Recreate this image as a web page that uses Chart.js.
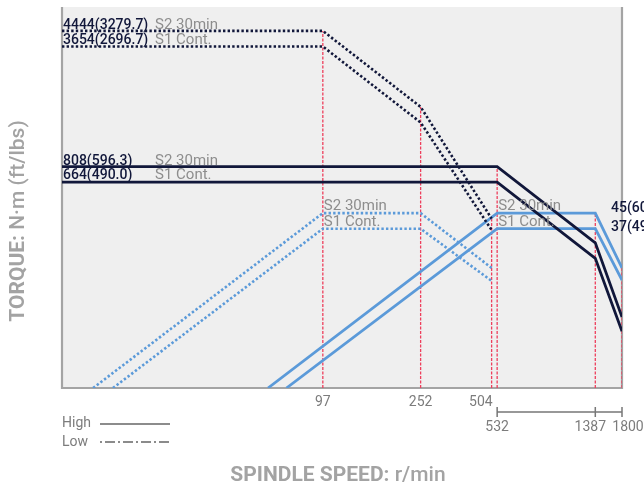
<!DOCTYPE html>
<html><head><meta charset="utf-8">
<script src="https://cdn.jsdelivr.net/npm/chart.js@4/dist/chart.umd.min.js"></script>
<style>html,body{margin:0;padding:0;background:#fff;overflow:hidden}</style>
</head><body>
<canvas id="c" width="644" height="489"></canvas>
<script>
// ---------- DATA ----------
const X_START = 7.6, X_END = 1800;           // spindle speed axis (r/min, log)
const TORQUE_MIN = 50, TORQUE_MAX = 6000;     // torque axis (N·m, log)
const POWER_MIN = 5, POWER_MAX = 600;         // power axis (kW, log)

// Torque, High gear (solid)
const highS2Speed  = [X_START, 532, 1387, 1800];
const highS2Torque = [808, 808, 310, 122];
const highS1Speed  = [X_START, 532, 1387, 1800];
const highS1Torque = [664, 664, 255, 102];
// Torque, Low gear (dotted)
const lowS2Speed  = [X_START, 97, 252, 504];
const lowS2Torque = [4444, 4444, 1710, 420];
const lowS1Speed  = [X_START, 97, 252, 504];
const lowS1Torque = [3654, 3654, 1406, 364];
// Power, High gear (solid)
const highS2PowerSpeed = [56.8, 532, 1387, 1800];
const highS2Power      = [5, 45, 45, 22.6];
const highS1PowerSpeed = [68, 532, 1387, 1800];
const highS1Power      = [5, 37, 37, 19.4];
// Power, Low gear (dotted)
const lowS2PowerSpeed = [10.3, 97, 252, 504];
const lowS2Power      = [5, 45, 45, 22.6];
const lowS1PowerSpeed = [12.5, 97, 252, 504];
const lowS1Power      = [5, 37, 37, 19.2];

// Reference speed markers (red) and the value where each one stops
const refSpeeds = [97, 252, 504, 532, 1387, 1800];
const refTops   = [4444, 1710, 420, 808, 45, 22.6];
const refAxes   = ['y', 'y', 'y', 'y', 'y2', 'y2'];

// Tick labels
const tickRow1 = [97, 252, 504];
const tickRow2 = [532, 1387, 1800];

// Value labels
const torqueLabels = [
  {v: 4444, text: '4444(3279.7)', tag: 'S2 30min'},
  {v: 3654, text: '3654(2696.7)', tag: 'S1 Cont.'},
  {v: 808,  text: '808(596.3)',   tag: 'S2 30min'},
  {v: 664,  text: '664(490.0)',   tag: 'S1 Cont.'}
];
const powerLabels = [
  {v: 45, text: '45(60.3)', tag: 'S2 30min'},
  {v: 37, text: '37(49.6)', tag: 'S1 Cont.'}
];
const powerTagSpeeds = [97, 532];

// ---------- STYLE ----------
const NAVY = '#11173a', BLUE = '#5b9ad9', RED = '#ee3f5c';
const GRAY_TXT = '#8d8d8d', AXIS_GRAY = '#a4a4a4', TICK_TXT = '#7c7c7c';
const FONT = 'Roboto, "Noto Sans", sans-serif';

const pts = (xs, ys) => xs.map((x, i) => ({x, y: ys[i]}));
function curve(xs, ys, color, dotted, axis) {
  return {
    data: pts(xs, ys), yAxisID: axis, borderColor: color,
    borderWidth: dotted ? 2.6 : 2.8, borderDash: dotted ? [2.4, 2.2] : [],
    borderCapStyle: 'butt', borderJoinStyle: 'miter',
    pointRadius: 0, tension: 0, fill: false, order: 1
  };
}
const datasets = [
  curve(highS2Speed, highS2Torque, NAVY, false, 'y'),
  curve(highS1Speed, highS1Torque, NAVY, false, 'y'),
  curve(lowS2Speed, lowS2Torque, NAVY, true, 'y'),
  curve(lowS1Speed, lowS1Torque, NAVY, true, 'y'),
  curve(highS2PowerSpeed, highS2Power, BLUE, false, 'y2'),
  curve(highS1PowerSpeed, highS1Power, BLUE, false, 'y2'),
  curve(lowS2PowerSpeed, lowS2Power, BLUE, true, 'y2'),
  curve(lowS1PowerSpeed, lowS1Power, BLUE, true, 'y2')
];
refSpeeds.forEach((s, i) => {
  const bottom = refAxes[i] === 'y' ? TORQUE_MIN : POWER_MIN;
  datasets.push({
    data: [{x: s, y: bottom}, {x: s, y: refTops[i]}], yAxisID: refAxes[i],
    borderColor: RED, borderWidth: 1.3, borderDash: [3, 1.5],
    pointRadius: 0, fill: false, order: 5
  });
});

const decor = {
  id: 'decor',
  beforeDraw(chart) {
    const {ctx, chartArea: a} = chart;
    ctx.save();
    ctx.fillStyle = '#efefef';
    ctx.fillRect(a.left, a.top, a.right - a.left, a.bottom - a.top);
    ctx.restore();
  },
  beforeDatasetsDraw(chart) {
    const {ctx, chartArea: a} = chart;
    ctx.save();
    ctx.strokeStyle = AXIS_GRAY; ctx.lineWidth = 2.2;
    ctx.beginPath();
    ctx.moveTo(a.left, a.top); ctx.lineTo(a.left, a.bottom); ctx.lineTo(a.right, a.bottom); ctx.lineTo(a.right, a.top);
    ctx.stroke();
    ctx.restore();
  },
  afterDatasetsDraw(chart) {
    const {ctx, chartArea: a, scales} = chart;
    const X = scales.x, Y = scales.y, P = scales.y2;
    ctx.save();
    // torque labels on the left
    ctx.textBaseline = 'alphabetic';
    torqueLabels.forEach((l, i) => {
      const y = Y.getPixelForValue(l.v) - (i === 3 ? 3 : 2);
      ctx.font = '500 14px ' + FONT; ctx.fillStyle = NAVY; ctx.textAlign = 'left';
      ctx.fillText(l.text, a.left + 1, y);
      ctx.fillStyle = GRAY_TXT;
      ctx.font = '15px ' + FONT;
      ctx.fillText(l.tag, a.left + 93, y);
    });
    // power tags inside the chart
    ctx.font = '15px ' + FONT; ctx.fillStyle = GRAY_TXT;
    powerTagSpeeds.forEach(s => {
      powerLabels.forEach(l => {
        ctx.fillText(l.tag, X.getPixelForValue(s) + 1, P.getPixelForValue(l.v) - 3);
      });
    });
    // power values at the right
    ctx.font = '500 14px ' + FONT; ctx.fillStyle = NAVY;
    ctx.fillText(powerLabels[0].text, a.right - 11, P.getPixelForValue(powerLabels[0].v) - 1);
    ctx.fillText(powerLabels[1].text, a.right - 11, P.getPixelForValue(powerLabels[1].v) + 2);

    // tick labels row 1
    ctx.font = '14px ' + FONT; ctx.fillStyle = TICK_TXT; ctx.textBaseline = 'middle';
    tickRow1.forEach((t, i) => {
      const x = X.getPixelForValue(t);
      ctx.textAlign = i === tickRow1.length - 1 ? 'right' : 'center';
      ctx.fillText(String(t), i === tickRow1.length - 1 ? x + 1 : x, a.bottom + 14);
    });
    // bracket row 2
    const bx = tickRow2.map(t => X.getPixelForValue(t));
    const by = a.bottom + 24;
    ctx.strokeStyle = '#777'; ctx.lineWidth = 1.5;
    ctx.beginPath();
    ctx.moveTo(bx[0], by); ctx.lineTo(bx[bx.length - 1], by);
    bx.forEach(x => { ctx.moveTo(x, by - 5); ctx.lineTo(x, by + 5); });
    ctx.stroke();
    const offs = [0, -5, 6];
    ctx.textAlign = 'center';
    tickRow2.forEach((t, i) => ctx.fillText(String(t), bx[i] + offs[i], by + 15));

    // legend
    ctx.textAlign = 'left'; ctx.fillStyle = TICK_TXT; ctx.font = '14px ' + FONT;
    ctx.fillText('High', a.left, 423);
    ctx.fillText('Low', a.left, 442);
    ctx.strokeStyle = '#666'; ctx.lineWidth = 1.3;
    ctx.beginPath(); ctx.moveTo(100, 424); ctx.lineTo(170, 424); ctx.stroke();
    ctx.setLineDash([2, 3, 10, 3]);
    ctx.beginPath(); ctx.moveTo(100, 442); ctx.lineTo(170, 442); ctx.stroke();
    ctx.setLineDash([]);

    // axis titles
    const title = (parts, cx, cy, rot, size) => {
      ctx.save(); ctx.translate(cx, cy); ctx.rotate(rot);
      ctx.fillStyle = '#a3a3a3'; ctx.textBaseline = 'middle'; ctx.textAlign = 'left';
      let w = 0;
      parts.forEach(p => { ctx.font = p[1] + ' ' + size + 'px ' + FONT; w += ctx.measureText(p[0]).width; });
      let x = -w / 2;
      parts.forEach(p => { ctx.font = p[1] + ' ' + size + 'px ' + FONT; ctx.fillText(p[0], x, 0); x += ctx.measureText(p[0]).width; });
      ctx.restore();
    };
    title([['SPINDLE SPEED:', '700'], [' r/min', '500']], 338, 476, 0, 21);
    title([['TORQUE:', '700'], [' N·m (ft/lbs)', '500']], 19, 221, -Math.PI / 2, 21);
    ctx.restore();
  }
};

new Chart(document.getElementById('c'), {
  type: 'line',
  data: {datasets},
  options: {
    responsive: false, animation: false, devicePixelRatio: 1,
    layout: {padding: {left: 62, right: 22, top: 7, bottom: 101}},
    plugins: {legend: {display: false}, tooltip: {enabled: false}},
    scales: {
      x: {type: 'logarithmic', min: X_START, max: X_END, display: false},
      y: {type: 'logarithmic', min: TORQUE_MIN, max: TORQUE_MAX, display: false},
      y2: {type: 'logarithmic', min: POWER_MIN, max: POWER_MAX, display: false}
    }
  },
  plugins: [decor]
});
</script>
</body></html>
